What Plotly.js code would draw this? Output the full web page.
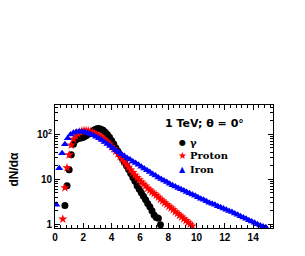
<!DOCTYPE html>
<html>
<head>
<meta charset="utf-8">
<script src="https://cdn.plot.ly/plotly-3.0.1.min.js"></script>
<style>html,body{margin:0;padding:0;background:#fff;}#chart{width:305px;height:256px;}</style>
</head>
<body>
<div id="chart"></div>
<script>
// γ (gamma) histogram
const gammaX = [0.70,0.85,1.00,1.15,1.30,1.45,1.60,1.75,1.90,2.05,2.20,2.35,2.50,2.65,2.80,2.95,3.10,3.25,3.40,3.55,3.70,3.85,4.00,4.15,4.30,4.45,4.60,4.75,4.90,5.05,5.20,5.35,5.50,5.65,5.80,5.95,6.10,6.25,6.40,6.55,6.70,6.85,7.00,7.15,7.30,7.45];
const gammaY = [2.6,7.2,16.3,35,60,74,80,82,84,88,93,101,110,119,127,133,135,131,123,112,99,86,73,61,50,42,35,29,24,20,16.5,13.5,11,9,7.2,6,5,4.2,3.5,2.9,2.45,2.0,1.6,1.4,1.35,0.97];

// Proton histogram
const protonX = [0.55,0.70,0.85,1.00,1.15,1.30,1.45,1.60,1.75,1.90,2.05,2.20,2.35,2.50,2.65,2.80,2.95,3.10,3.25,3.40,3.55,3.70,3.85,4.00,4.15,4.30,4.45,4.60,4.75,4.90,5.05,5.20,5.35,5.50,5.65,5.80,5.95,6.10,6.25,6.40,6.55,6.70,6.85,7.00,7.15,7.30,7.45,7.60,7.75,7.90,8.05,8.20,8.35,8.50,8.65,8.80,8.95,9.10,9.25,9.40,9.55,9.70];
const protonY = [1.3,6.5,18,35,58,78,92,104,113,118,121,121,119,115,110,105,99,93,87,81,74,68,61,54,48,42,37,32,28,24.5,21.4,18.6,16.2,14.1,12.3,11,9.8,8.7,7.8,7.1,6.3,5.75,5.2,4.8,4.4,4.0,3.6,3.3,3.0,2.75,2.5,2.3,2.1,1.9,1.74,1.58,1.45,1.32,1.2,1.1,1.0,0.91];

// Iron histogram
const ironX = [0.1,0.3,0.5,0.7,0.9,1.1,1.3,1.5,1.7,1.9,2.1,2.3,2.5,2.7,2.9,3.1,3.3,3.5,3.7,3.9,4.1,4.3,4.5,4.7,4.9,5.1,5.3,5.5,5.7,5.9,6.1,6.3,6.5,6.7,6.9,7.1,7.3,7.5,7.7,7.9,8.1,8.3,8.5,8.7,8.9,9.1,9.3,9.5,9.7,9.9,10.1,10.3,10.5,10.7,10.9,11.1,11.3,11.5,11.7,11.9,12.1,12.3,12.5,12.7,12.9,13.1,13.3,13.5,13.7,13.9,14.1,14.3,14.5,14.7,14.9];
const ironY = [2.7,17.7,38,60,82,100,109,114,116,114,112,107,102,96,89,82,75,68,61,55,49,44,40,36,33,30,27.5,25,23,21,19,17.4,15.9,14.5,13.2,12.1,11,10.2,9.4,8.7,8.0,7.4,6.9,6.4,6.0,5.6,5.2,4.9,4.6,4.3,4.0,3.7,3.5,3.25,3.0,2.85,2.7,2.5,2.37,2.24,2.1,1.97,1.86,1.74,1.62,1.51,1.41,1.32,1.23,1.15,1.07,1.0,0.93,0.89,0.85];

const seriesNames = ['γ', 'Proton', 'Iron'];
const seriesColors = ['#000000', '#ff0000', '#0000ff'];
const seriesGlyphs = ['●', '★', '▲'];
const legendTitle = '1 TeV; θ = 0°';
const yTitle = 'dN/dα';

const xTickVals = [0,2,4,6,8,10,12,14];
const yTickVals = [1,10,100];
const yTickText = ['1','10','10<sup>2</sup>'];
const yMinorVals = [0.9,2,3,4,5,6,7,8,9,20,30,40,50,60,70,80,90,200,300,400];

const traces = [
  {x: gammaX, y: gammaY, name: seriesNames[0], type: 'scatter', mode: 'markers',
   marker: {symbol: 'circle', size: 7, color: seriesColors[0]}},
  {x: protonX, y: protonY, name: seriesNames[1], type: 'scatter', mode: 'markers',
   marker: {symbol: 'star', size: 7, color: seriesColors[1]}},
  {x: ironX, y: ironY, name: seriesNames[2], type: 'scatter', mode: 'markers',
   marker: {symbol: 'triangle-up', size: 7, color: seriesColors[2]}}
];

const tickFont = {family: 'Liberation Sans, Arial, sans-serif', size: 10, color: '#000', weight: 'bold'};

// legend built from annotations (paper coords)
const legendRowsY = [0.699, 0.593, 0.472];
const glyphSizes = [8, 10, 8];
const annotations = [
  {xref: 'paper', yref: 'paper', x: 0.495, y: 0.846, xanchor: 'left', yanchor: 'middle',
   showarrow: false, text: legendTitle,
   font: {family: 'DejaVu Sans, sans-serif', size: 11, color: '#000', weight: 'bold'}},
  {xref: 'paper', yref: 'paper', x: -0.19, y: 0.48, xanchor: 'center', yanchor: 'middle',
   showarrow: false, textangle: -90, text: yTitle,
   font: {family: 'Liberation Sans, Arial, sans-serif', size: 12, color: '#000', weight: 'bold'}}
];
seriesNames.forEach(function (nm, i) {
  annotations.push({xref: 'paper', yref: 'paper', x: 0.5826, y: legendRowsY[i],
    xanchor: 'center', yanchor: 'middle', showarrow: false, text: seriesGlyphs[i],
    font: {family: 'DejaVu Sans, sans-serif', size: glyphSizes[i], color: seriesColors[i]}});
  annotations.push({xref: 'paper', yref: 'paper', x: 0.610, y: legendRowsY[i],
    xanchor: 'left', yanchor: 'middle', showarrow: false, text: nm,
    font: {family: 'DejaVu Serif, serif', size: 10, color: '#000', weight: 'bold'}});
});

const layout = {
  width: 305, height: 256,
  margin: {l: 55, r: 32, t: 105, b: 28},
  paper_bgcolor: '#ffffff', plot_bgcolor: '#ffffff',
  showlegend: false,
  annotations: annotations,
  xaxis: {
    range: [0, 15.4], showgrid: false, zeroline: false,
    showline: true, linecolor: '#000', linewidth: 1, mirror: 'ticks',
    ticks: 'inside', ticklen: 5, tickcolor: '#000',
    tickmode: 'array', tickvals: xTickVals,
    minor: {ticks: 'inside', ticklen: 3, dtick: 0.4, tick0: 0, tickcolor: '#000', showgrid: false},
    tickfont: tickFont
  },
  yaxis: {
    type: 'log', range: [-0.085, 2.655], showgrid: false, zeroline: false,
    showline: true, linecolor: '#000', linewidth: 1, mirror: 'ticks',
    ticks: 'inside', ticklen: 5, tickcolor: '#000',
    tickmode: 'array', tickvals: yTickVals, ticktext: yTickText,
    minor: {ticks: 'inside', ticklen: 3, tickmode: 'array', tickvals: yMinorVals, tickcolor: '#000', showgrid: false},
    tickfont: tickFont
  }
};

Plotly.newPlot('chart', traces, layout, {staticPlot: true, displayModeBar: false});
</script>
</body>
</html>
